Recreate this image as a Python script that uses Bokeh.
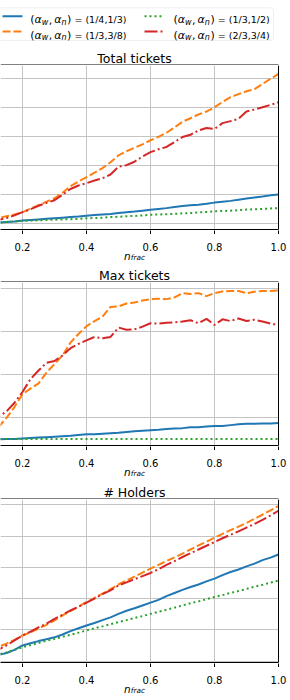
from bokeh.plotting import figure
from bokeh.models import Range1d, LinearAxis, FixedTicker, BoxAnnotation, ColumnDataSource, Span
from bokeh.layouts import column
from bokeh.embed import file_html
from bokeh.resources import INLINE
from bokeh.core.properties import value

# ---------------- data ----------------
n_frac = [0.100, 0.125, 0.150, 0.175, 0.200, 0.225, 0.250, 0.275, 0.300, 0.325,
          0.350, 0.375, 0.400, 0.425, 0.450, 0.475, 0.500, 0.525, 0.550, 0.575,
          0.600, 0.625, 0.650, 0.675, 0.700, 0.725, 0.750, 0.775, 0.800, 0.825,
          0.850, 0.875, 0.900, 0.925, 0.950, 0.975, 1.000]

series_names = ["(1/4,1/3)", "(1/3,3/8)", "(1/3,1/2)", "(2/3,3/4)"]

# Total tickets
total_14_13 = [0.01, 0.02, 0.04, 0.06, 0.09, 0.11, 0.13, 0.15, 0.17, 0.19,
               0.21, 0.23, 0.26, 0.28, 0.30, 0.32, 0.35, 0.38, 0.40, 0.43,
               0.46, 0.49, 0.52, 0.56, 0.59, 0.62, 0.64, 0.67, 0.71, 0.74,
               0.77, 0.81, 0.85, 0.89, 0.92, 0.96, 0.99]
total_13_38 = [0.12, 0.18, 0.24, 0.30, 0.38, 0.50, 0.62, 0.74, 0.86, 1.05,
               1.28, 1.44, 1.59, 1.74, 1.90, 2.10, 2.34, 2.48, 2.60, 2.72,
               2.86, 2.98, 3.12, 3.30, 3.50, 3.62, 3.75, 3.85, 4.00, 4.18,
               4.35, 4.45, 4.55, 4.62, 4.80, 4.98, 5.15]
total_13_12 = [0.01, 0.02, 0.04, 0.06, 0.08, 0.09, 0.10, 0.11, 0.12, 0.13,
               0.14, 0.15, 0.17, 0.18, 0.19, 0.21, 0.22, 0.24, 0.25, 0.27,
               0.29, 0.30, 0.31, 0.32, 0.34, 0.35, 0.37, 0.39, 0.41, 0.42,
               0.43, 0.45, 0.47, 0.48, 0.49, 0.51, 0.52]
total_23_34 = [0.10, 0.12, 0.18, 0.27, 0.38, 0.48, 0.60, 0.70, 0.79, 0.98,
               1.18, 1.30, 1.38, 1.47, 1.55, 1.68, 1.95, 2.00, 2.12, 2.30,
               2.45, 2.55, 2.63, 2.80, 2.97, 3.05, 3.20, 3.28, 3.25, 3.45,
               3.52, 3.60, 3.85, 3.92, 4.00, 4.08, 4.17]

# Max tickets
max_14_13 = [0.50, 0.50, 0.51, 0.51, 0.52, 0.53, 0.54, 0.55, 0.56, 0.57,
             0.58, 0.60, 0.62, 0.62, 0.63, 0.64, 0.65, 0.67, 0.69, 0.70,
             0.71, 0.72, 0.74, 0.75, 0.76, 0.78, 0.78, 0.80, 0.81, 0.81,
             0.83, 0.85, 0.86, 0.86, 0.87, 0.87, 0.88]
max_13_38 = [0.60, 0.78, 1.00, 1.25, 1.55, 1.68, 1.80, 2.05, 2.25, 2.45,
             2.75, 2.95, 3.13, 3.25, 3.35, 3.58, 3.59, 3.66, 3.68, 3.73,
             3.76, 3.77, 3.76, 3.80, 3.90, 3.88, 3.90, 3.83, 3.90, 3.94,
             3.95, 3.95, 3.90, 3.93, 3.95, 3.95, 3.96]
max_13_12 = [0.51, 0.51, 0.51, 0.51, 0.51, 0.51, 0.51, 0.51, 0.51, 0.51,
             0.51, 0.51, 0.51, 0.51, 0.51, 0.51, 0.51, 0.51, 0.51, 0.51,
             0.51, 0.51, 0.51, 0.51, 0.51, 0.51, 0.51, 0.51, 0.51, 0.51,
             0.51, 0.51, 0.51, 0.51, 0.51, 0.51, 0.51]
max_23_34 = [0.85, 1.02, 1.15, 1.35, 1.60, 1.90, 2.10, 2.28, 2.32, 2.45,
             2.62, 2.72, 2.80, 2.88, 2.85, 2.88, 3.10, 3.05, 3.06, 3.12,
             3.20, 3.19, 3.21, 3.22, 3.24, 3.27, 3.20, 3.30, 3.16, 3.29,
             3.25, 3.31, 3.25, 3.28, 3.24, 3.19, 3.16]

# Holders
hold_14_13 = [0.15, 0.20, 0.26, 0.36, 0.50, 0.57, 0.64, 0.70, 0.76, 0.85,
              0.96, 1.05, 1.14, 1.22, 1.31, 1.40, 1.51, 1.61, 1.69, 1.78,
              1.87, 1.96, 2.08, 2.18, 2.28, 2.37, 2.45, 2.55, 2.64, 2.75,
              2.85, 2.93, 3.03, 3.12, 3.23, 3.31, 3.41]
hold_13_38 = [0.38, 0.46, 0.56, 0.68, 0.82, 0.92, 1.04, 1.16, 1.30, 1.46,
              1.60, 1.74, 1.89, 2.02, 2.16, 2.30, 2.45, 2.58, 2.70, 2.83,
              2.96, 3.08, 3.20, 3.32, 3.44, 3.57, 3.70, 3.82, 3.95, 4.07,
              4.19, 4.30, 4.42, 4.55, 4.69, 4.82, 4.96]
hold_13_12 = [0.15, 0.21, 0.28, 0.36, 0.44, 0.51, 0.58, 0.65, 0.71, 0.78,
              0.84, 0.91, 0.98, 1.05, 1.11, 1.18, 1.25, 1.31, 1.38, 1.44,
              1.51, 1.58, 1.64, 1.71, 1.78, 1.85, 1.91, 1.98, 2.05, 2.11,
              2.18, 2.24, 2.31, 2.38, 2.44, 2.51, 2.58]
hold_23_34 = [0.30, 0.37, 0.50, 0.66, 0.82, 0.94, 1.08, 1.20, 1.35, 1.48,
              1.62, 1.74, 1.87, 2.00, 2.14, 2.26, 2.42, 2.52, 2.62, 2.72,
              2.82, 2.94, 3.08, 3.20, 3.33, 3.45, 3.57, 3.69, 3.81, 3.93,
              4.04, 4.15, 4.27, 4.39, 4.52, 4.66, 4.81]

x_ticks = [0.2, 0.4, 0.6, 0.8, 1.0]
x_tick_labels = ["0.2", "0.4", "0.6", "0.8", "1.0"]
total_y_ticks = [0, 1, 2, 3, 4, 5]
max_y_ticks = [1, 2, 3, 4]
hold_y_ticks = [0, 1, 2, 3, 4, 5]

# ---------------- style / layout ----------------
FONT = "DejaVu Sans"
W = 290
X_LO, X_HI = 0.13125, 1.0        # visible part of the 0.1..1.0 axis (page x 0..278)
PX_PER_UNIT = 278 / (X_HI - X_LO)
X_END = X_LO + W / PX_PER_UNIT   # value at the right edge of the page
COLORS = ["#1f77b4", "#ff7f0e", "#2ca02c", "#d62728"]
DASHES = ["solid", "8 3", "2 3", "13 3 2 3"]
LW = 2
GRID = "#c4c4c4"


def px2x(px):
    """page pixel (x) -> x value of the shared horizontal scale"""
    return X_LO + px / PX_PER_UNIT


def border_axis():
    ax = LinearAxis(ticker=FixedTicker(ticks=[]), bounds=(X_LO, X_HI))
    ax.axis_line_color = "black"
    ax.axis_line_width = 1
    ax.major_tick_out = 0
    ax.major_tick_in = 0
    ax.major_label_standoff = 0
    ax.major_tick_line_color = None
    ax.minor_tick_line_color = None
    ax.major_label_text_font_size = "0px"
    return ax


def panel(ys, y_ticks, y_lo, y_hi, height):
    p = figure(width=W, height=height, output_backend="svg", toolbar_location=None,
               x_range=Range1d(X_LO, X_END), y_range=Range1d(y_lo, y_hi),
               x_axis_location=None, y_axis_location=None,
               min_border_left=0, min_border_right=0, min_border_top=0, min_border_bottom=1)
    p.outline_line_color = None
    p.xgrid.ticker = FixedTicker(ticks=x_ticks)
    p.ygrid.ticker = FixedTicker(ticks=y_ticks)
    p.grid.grid_line_color = GRID
    p.grid.grid_line_width = 1
    # white margin right of the axes box (hides grid lines there)
    p.add_layout(BoxAnnotation(left=X_HI, fill_color="white", fill_alpha=1.0,
                               line_color=None, level="underlay"))
    p.add_layout(border_axis(), "below")
    for y, c, d in zip(ys, COLORS, DASHES):
        src = ColumnDataSource(dict(x=n_frac, y=y))
        p.line("x", "y", source=src, line_color=c, line_width=LW, line_dash=d)
    p.add_layout(Span(location=X_HI, dimension="height", line_color="black", line_width=1))
    return p


def strip(top, bottom):
    s = figure(width=W, height=bottom - top, output_backend="svg", toolbar_location=None,
               x_range=Range1d(X_LO, X_END), y_range=Range1d(bottom, top),
               x_axis_location=None, y_axis_location=None, min_border=0)
    s.outline_line_color = None
    s.grid.visible = False
    return s


def txt(s, x, y, text, size, style="normal", align="left", x_offset=0):
    s.text(x=[x], y=[y], text=[text], text_font=value(FONT), text_font_size=value(size),
           text_font_style=style, text_align=align, text_baseline="alphabetic",
           text_color="black", x_offset=x_offset)


def add_xaxis(s, frame_bottom):
    s.segment(x0=x_ticks, x1=x_ticks, y0=[frame_bottom] * len(x_ticks),
              y1=[frame_bottom + 4.5] * len(x_ticks), line_color="black", line_width=1)
    s.text(x=x_ticks, y=[frame_bottom + 17.0] * len(x_ticks), text=x_tick_labels,
           text_font=value(FONT), text_font_size=value("10px"), text_align="center",
           text_baseline="alphabetic", text_color="black")
    txt(s, 0.55, frame_bottom + 26.0, "n", "10.5px", "italic", x_offset=-10.4)
    txt(s, 0.55, frame_bottom + 28.3, "frac", "7.4px", "italic", x_offset=-3.7)


def add_title(s, frame_top, title):
    # top spine of the axes box below, then the title above it
    s.segment(x0=[X_LO], x1=[X_HI], y0=[frame_top - 0.5], y1=[frame_top - 0.5],
              line_color="black", line_width=1)
    txt(s, 0.55, frame_top - 7.0, title, "12.5px", align="center")


# frames (page y): p1 65..229, p2 282..445, p3 499..662
s0 = strip(0, 65)
p1 = panel([total_14_13, total_13_38, total_13_12, total_23_34], total_y_ticks, -0.217, 5.438, 165)
s1 = strip(230, 282)
p2 = panel([max_14_13, max_13_38, max_13_12, max_23_34], max_y_ticks, 0.356, 4.147, 164)
s2 = strip(446, 499)
p3 = panel([hold_14_13, hold_13_38, hold_13_12, hold_23_34], hold_y_ticks, -0.045, 5.17, 164)
s3 = strip(663, 696)

# ---------------- legend (in s0) ----------------
s0.add_layout(BoxAnnotation(left=px2x(-3), right=px2x(273), top=7.3, bottom=40,
                            fill_color="white", fill_alpha=1.0, level="underlay",
                            line_color="#cccccc", line_width=1, border_radius=3))
col_sample = [2, 144]
col_text = [29.7, 173.0]
row_y = [15.7, 31.0]
entry_pos = [(0, 0), (0, 1), (1, 0), (1, 1)]  # (column, row) of each series
FM, FS, FT = "11px", "8px", "9.5px"
pieces = [("(", 0.0, "normal", FM, 0.0),
          ("\u03b1", 4.3, "italic", FM, 0.0),
          ("w", 11.6, "italic", FS, 2.5),
          (",", 18.6, "normal", FM, 0.0),
          ("\u03b1", 24.0, "italic", FM, 0.0),
          ("n", 31.3, "italic", FS, 2.5),
          (")", 36.9, "normal", FM, 0.0)]
for name, c, d, (ci, ri) in zip(series_names, COLORS, DASHES, entry_pos):
    yc = row_y[ri]
    s0.segment(x0=[px2x(col_sample[ci])], x1=[px2x(col_sample[ci] + 20)], y0=[yc], y1=[yc],
               line_color=c, line_width=LW, line_dash=d)
    x0 = col_text[ci]
    base = yc + 3.6
    for t, dx, style, size, dy in pieces:
        txt(s0, px2x(x0 + dx), base + dy, t, size, style)
    txt(s0, px2x(x0 + 44.2), base, "= " + name, FT)

add_title(s0, 65, "Total tickets")
add_xaxis(s1, 229)
add_title(s1, 282, "Max tickets")
add_xaxis(s2, 445)
add_title(s2, 499, "# Holders")
add_xaxis(s3, 662)

layout = column(s0, p1, s1, p2, s2, p3, s3, spacing=0)
open("out.html", "w").write(file_html(layout, INLINE))
